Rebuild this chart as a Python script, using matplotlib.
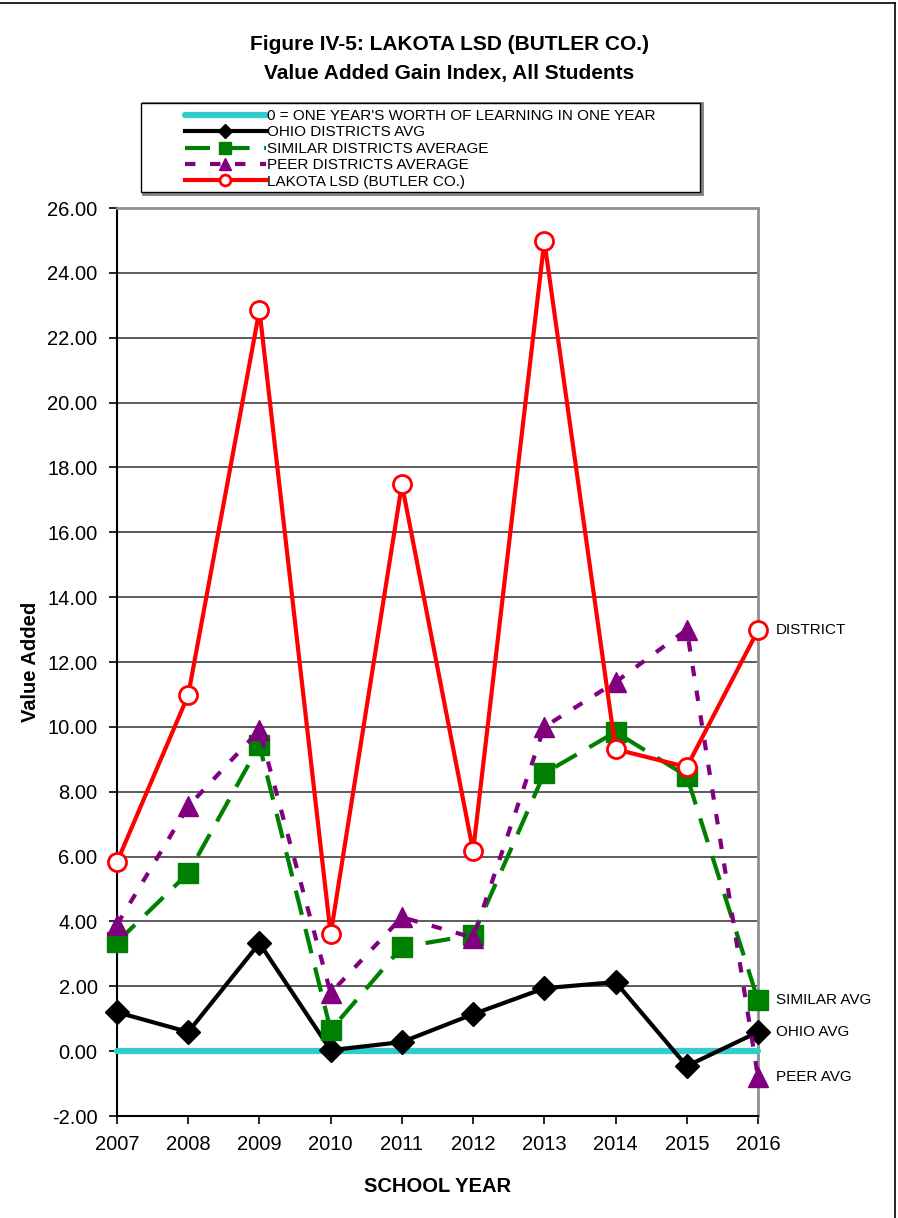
import matplotlib
matplotlib.use("Agg")
import matplotlib.pyplot as plt
from matplotlib.lines import Line2D
from matplotlib.patches import Rectangle

# -----------------------------
# Data
# -----------------------------
years = [2007, 2008, 2009, 2010, 2011, 2012, 2013, 2014, 2015, 2016]
baseline = [0, 0, 0, 0, 0, 0, 0, 0, 0, 0]
ohio_avg = [1.20, 0.59, 3.33, 0.03, 0.28, 1.14, 1.94, 2.13, -0.46, 0.59]
similar_avg = [3.36, 5.49, 9.44, 0.65, 3.21, 3.58, 8.57, 9.84, 8.48, 1.57]
peer_avg = [3.90, 7.55, 9.90, 1.79, 4.13, 3.50, 10.00, 11.38, 13.00, -0.80]
lakota = [5.83, 10.98, 22.85, 3.60, 17.48, 6.17, 24.98, 9.31, 8.76, 12.98]

legend_labels = [
    "0 = ONE YEAR'S WORTH OF LEARNING IN ONE YEAR",
    "OHIO DISTRICTS AVG",
    "SIMILAR DISTRICTS AVERAGE",
    "PEER DISTRICTS AVERAGE",
    "LAKOTA LSD (BUTLER CO.)",
]
end_labels = ["DISTRICT", "SIMILAR AVG", "OHIO AVG", "PEER AVG"]
y_ticks = list(range(-2, 27, 2))

plt.rcParams["font.family"] = ["Liberation Sans", "DejaVu Sans"]

W, H = 898, 1218
fig = plt.figure(figsize=(W / 100, H / 100), dpi=100)
ax = fig.add_axes([117 / W, 1 - 1116 / H, (758 - 117) / W, (1116 - 208) / H])

# -----------------------------
# Series
# -----------------------------
ax.plot(years, baseline, color="#33CCCC", lw=4.5, solid_capstyle="round",
        label=legend_labels[0], zorder=3, clip_on=False)
ax.plot(years, ohio_avg, color="black", lw=3, marker="D", ms=12,
        label=legend_labels[1], zorder=4, clip_on=False)
ax.plot(years, similar_avg, color="#008000", lw=3, ls=(0, (6, 3.5)),
        marker="s", ms=14, label=legend_labels[2], zorder=5, clip_on=False)
ax.plot(years, peer_avg, color="#800080", lw=3, ls=(0, (2.5, 3.5)),
        dash_capstyle="butt", marker="^", ms=15, label=legend_labels[3],
        zorder=6, clip_on=False)
ax.plot(years, lakota, color="#FF0000", lw=3, marker="o", ms=13,
        mfc="white", mec="#FF0000", mew=2, label=legend_labels[4],
        zorder=7, clip_on=False)

# -----------------------------
# Axes styling
# -----------------------------
ax.set_xlim(2007, 2016)
ax.set_ylim(-2, 26)
ax.set_xticks(years)
ax.set_yticks(y_ticks)
ax.set_yticklabels([f"{v:.2f}" for v in y_ticks])
ax.tick_params(axis="both", direction="out", length=6, width=1.2,
               labelsize=14.5, pad=8)
ax.grid(axis="y", color="#404040", lw=1.2)
ax.set_axisbelow(True)

for s in ["left", "bottom"]:
    ax.spines[s].set_color("black")
    ax.spines[s].set_linewidth(1.5)
for s in ["top", "right"]:
    ax.spines[s].set_color("#909090")
    ax.spines[s].set_linewidth(2)

ax.set_xlabel("SCHOOL YEAR", fontsize=14.5, fontweight="bold", labelpad=16)
ax.set_ylabel("Value Added", fontsize=14.5, fontweight="bold", labelpad=5)

# end-of-line labels
for lab, vals in zip(end_labels, [lakota, similar_avg, ohio_avg, peer_avg]):
    ax.annotate(lab, xy=(years[-1], vals[-1]), xytext=(13, 0),
                textcoords="offset points", va="center", ha="left",
                fontsize=11, annotation_clip=False)

# -----------------------------
# Title
# -----------------------------
title_font = ["Liberation Sans Narrow", "Liberation Sans", "DejaVu Sans"]
fig.text(0.5, 1 - 45 / H, "Figure IV-5: LAKOTA LSD (BUTLER CO.)",
         ha="center", va="center", fontsize=15, fontweight="bold",
         family=title_font)
fig.text(0.5, 1 - 73 / H, "Value Added Gain Index, All Students",
         ha="center", va="center", fontsize=15, fontweight="bold",
         family=title_font)

# -----------------------------
# Legend with its own box
# -----------------------------
fig.patches.append(Rectangle((143 / W, 1 - 194 / H), (702 - 143) / W,
                             (194 - 103) / H, transform=fig.transFigure,
                             facecolor="white", edgecolor="#808080", lw=2,
                             zorder=1))
fig.patches.append(Rectangle((141 / W, 1 - 192 / H), (700 - 141) / W,
                             (192 - 103) / H, transform=fig.transFigure,
                             facecolor="white", edgecolor="black", lw=1,
                             zorder=1))
handles, labels = ax.get_legend_handles_labels()
fig.legend(handles, labels, loc="upper left",
           bbox_to_anchor=(185 / W, 1 - 109 / H), frameon=False,
           fontsize=11, handlelength=5.3, handletextpad=0.05,
           labelspacing=0.16, borderpad=0, borderaxespad=0,
           markerscale=0.6)

# outer chart border (top and right)
fig.add_artist(Line2D([0, 895 / W], [1 - 3 / H, 1 - 3 / H],
                      transform=fig.transFigure, color="black", lw=1.2))
fig.add_artist(Line2D([895 / W, 895 / W], [1 - 3 / H, 0],
                      transform=fig.transFigure, color="black", lw=1.2))

fig.savefig("out.png", dpi=100)
